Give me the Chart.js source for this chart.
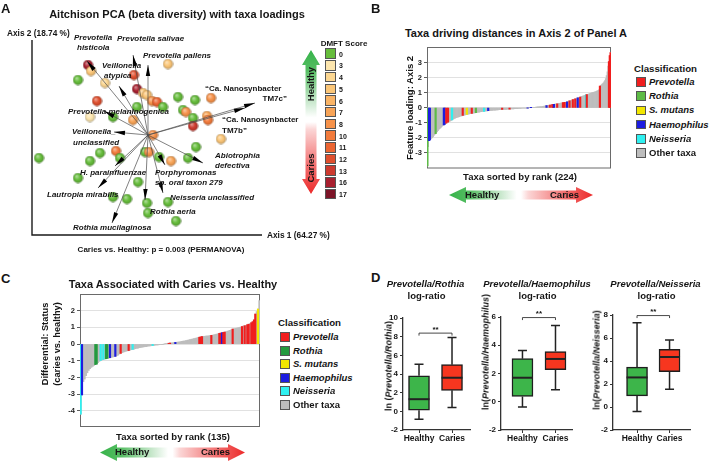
<!DOCTYPE html>
<html>
<head>
<meta charset="utf-8">
<script src="https://cdn.jsdelivr.net/npm/chart.js@4.4.1/dist/chart.umd.min.js"></script>
<style>
  body { margin: 0; background: #fff; }
  #fig { position: relative; width: 710px; height: 462px; overflow: hidden; background: #fff;
         font-family: 'Liberation Sans', Arial, sans-serif; font-weight: bold; color: #151515; }
  #fig canvas { position: absolute; }
  .t { position: absolute; white-space: nowrap; line-height: 1; }
  .sw { position: absolute; box-sizing: border-box; border: 1px solid #555; }
</style>
</head>
<body>
<div id="fig">
  <canvas id="pca" width="370" height="270" style="left:0;top:0"></canvas>
  <canvas id="axis2" width="225" height="135" style="left:395px;top:40px"></canvas>
  <canvas id="diff" width="225" height="150" style="left:40px;top:285px"></canvas>
  <canvas id="box1" width="95" height="135" style="left:382px;top:310px"></canvas>
  <canvas id="box2" width="97" height="140" style="left:480px;top:305px"></canvas>
  <canvas id="box3" width="100" height="140" style="left:592px;top:305px"></canvas>
</div>
<script>
// ---- Panel A: PCA samples (Axis 1 / Axis 2 scores) and DMFT score of each sample
const sampleX = [-60, -57, -70, -43, -14, -11, -5, -1, 4, 9, 15, 20, 30, 47, 63, -51, -58, -35, -15, -11,
  35, 38, 59, 60, 45, 45, 5, 73, 48, -48, -32, -109, -58, -28, -3, 1, 11, 23, 40, -70, -10, -35, -21, -1, 20, 0, 28];
const sampleY = [70, 64, 55, 52, 60, 46, 42, 40, 34, 33, 28, 71, 38, 35, 37, 34, 18, 18, 15, 28,
  25, 23, 19, 15, 17, 9, 0, -4, -12, -18, -16, -23, -26, -23, -17, -17, -22, -26, -23, -43, -47, -62, -64, -68, -67, -78, -86];
const sampleDMFT = [16, 5, 0, 4, 12, 16, 5, 5, 8, 11, 0, 5, 0, 0, 8, 12, 3, 0, 7, 0,
  0, 8, 7, 10, 0, 13, 8, 5, 0, 0, 10, 0, 0, 0, 0, 8, 0, 7, 0, 0, 0, 0, 0, 0, 0, 0, 0];

const dmftScores = [0, 3, 4, 5, 6, 7, 8, 10, 11, 12, 13, 16, 17];
const dmftColors = ['#66bd3c', '#fde6ae', '#fcd792', '#fbc678', '#fab466', '#f8a457', '#f6924a',
  '#f27b3c', '#eb6532', '#df4f2e', '#cd3a2f', '#a8202f', '#7c1427'];

// taxa loadings (arrow tips)
const loadingNames = ['Prevotella histicola', 'Prevotella salivae', 'Prevotella pallens', 'Veillonella atypica',
  'Ca. Nanosynbacter TM7c', 'Ca. Nanosynbacter TM7b', 'Prevotella melaninogenica', 'Veillonella unclassified',
  'Abiotrophia defectiva', 'Porphyromonas sp. oral taxon 279', 'Neisseria unclassified', 'H. parainfluenzae',
  'Lautropia mirabilis', 'Rothia mucilaginosa', 'Rothia aeria'];
const loadingX = [-61, -15, 0, -29, 107, 97, -44, -34, 55, 17, 15, -33, -50, -36, -3];
const loadingY = [74, 80, 70, 49, 32, 27, 24, 3, -28, -30, -58, -31, -53, -88, -65];

// ---- Panel B: feature loadings on Axis 2, sorted by rank (224 taxa)
const axis2Loadings = [
  -3.9, -2.6, -2.2, -2.15, -2.1, -2.05, -2.0, -1.93, -1.86, -1.79,
  -1.73, -1.67, -1.6, -1.53, -1.46, -1.4, -1.35, -1.3, -1.24, -1.19,
  -1.15, -1.11, -1.07, -1.03, -1.0, -0.97, -0.94, -0.91, -0.88, -0.85,
  -0.82, -0.78, -0.75, -0.72, -0.7, -0.67, -0.65, -0.63, -0.61, -0.59,
  -0.57, -0.55, -0.54, -0.52, -0.51, -0.49, -0.48, -0.46, -0.45, -0.44,
  -0.43, -0.41, -0.4, -0.39, -0.38, -0.37, -0.36, -0.35, -0.34, -0.33,
  -0.32, -0.31, -0.3, -0.29, -0.28, -0.27, -0.26, -0.25, -0.245, -0.24,
  -0.23, -0.22, -0.215, -0.21, -0.2, -0.195, -0.19, -0.185, -0.18, -0.175,
  -0.17, -0.165, -0.16, -0.155, -0.15, -0.145, -0.14, -0.135, -0.13, -0.127,
  -0.124, -0.12, -0.117, -0.114, -0.11, -0.107, -0.104, -0.1, -0.097, -0.094,
  -0.09, -0.087, -0.084, -0.08, -0.077, -0.073, -0.07, -0.066, -0.062, -0.058,
  -0.054, -0.05, -0.046, -0.042, -0.038, -0.034, -0.03, -0.026, -0.022, -0.018,
  -0.014, -0.01, -0.006, -0.002, 0.002, 0.006, 0.01, 0.015, 0.02, 0.025,
  0.03, 0.036, 0.042, 0.048, 0.054, 0.06, 0.066, 0.072, 0.078, 0.085,
  0.092, 0.1, 0.11, 0.12, 0.13, 0.14, 0.15, 0.16, 0.17, 0.18,
  0.19, 0.2, 0.21, 0.22, 0.23, 0.24, 0.25, 0.26, 0.27, 0.28,
  0.29, 0.3, 0.31, 0.32, 0.33, 0.34, 0.35, 0.36, 0.37, 0.38,
  0.4, 0.42, 0.44, 0.46, 0.48, 0.5, 0.52, 0.54, 0.56, 0.58,
  0.6, 0.62, 0.64, 0.66, 0.68, 0.7, 0.72, 0.74, 0.76, 0.78,
  0.8, 0.82, 0.84, 0.86, 0.88, 0.9, 0.92, 0.94, 0.96, 0.98,
  1.0, 1.02, 1.04, 1.05, 1.07, 1.09, 1.11, 1.13, 1.16, 1.22,
  1.45, 1.5, 1.55, 1.6, 1.66, 1.73, 1.82, 1.95, 2.15, 2.4,
  2.8, 3.1, 3.5, 3.7
];
const bPrevotella = [23, 25, 43, 54, 91, 100, 149, 152, 153, 158, 165, 167, 173, 177, 180, 186, 194, 210, 221, 222, 223];
const bRothia = [0, 10, 59];
const bMutans = [48];
const bHaemophilus = [2, 3, 20, 21, 74, 122, 126, 145, 154, 170, 183];
const bNeisseria = [30, 69, 193];

// ---- Panel C: differentials caries vs. healthy, sorted by rank (135 taxa)
const statusDiff = [
  -4.2, -3.05, -2.25, -2.1, -1.9, -1.72, -1.58, -1.48, -1.4, -1.34,
  -1.28, -1.23, -1.2, -1.12, -1.04, -0.98, -0.95, -0.92, -0.9, -0.88,
  -0.86, -0.84, -0.82, -0.8, -0.78, -0.76, -0.74, -0.7, -0.66, -0.6,
  -0.56, -0.52, -0.49, -0.46, -0.43, -0.41, -0.39, -0.36, -0.34, -0.32,
  -0.3, -0.28, -0.26, -0.24, -0.22, -0.21, -0.19, -0.18, -0.16, -0.15,
  -0.14, -0.12, -0.11, -0.1, -0.09, -0.08, -0.07, -0.06, -0.05, -0.04,
  -0.03, -0.02, -0.01, 0.01, 0.02, 0.03, 0.05, 0.06, 0.07, 0.08,
  0.09, 0.1, 0.11, 0.12, 0.13, 0.15, 0.16, 0.18, 0.19, 0.21,
  0.23, 0.25, 0.27, 0.29, 0.31, 0.33, 0.35, 0.37, 0.39, 0.41,
  0.43, 0.45, 0.46, 0.47, 0.48, 0.49, 0.5, 0.51, 0.52, 0.54,
  0.56, 0.58, 0.6, 0.62, 0.64, 0.66, 0.68, 0.7, 0.72, 0.74,
  0.77, 0.8, 0.83, 0.86, 0.9, 0.92, 0.94, 0.96, 0.98, 1.0,
  1.02, 1.05, 1.08, 1.1, 1.13, 1.16, 1.19, 1.23, 1.28, 1.34,
  1.45, 1.8, 1.95, 2.1, 2.6
];
const cPrevotella = [30, 36, 66, 67, 89, 90, 91, 98, 104, 105, 107, 108, 114, 121, 123, 125, 126, 128, 129, 130, 131];
const cRothia = [11, 12, 19, 20];
const cMutans = [133];
const cHaemophilus = [1, 22, 26, 71, 106];
const cNeisseria = [0, 15, 17, 39, 54];

// ---- Panel D: log-ratio box plots [min, q1, median, q3, max] for Healthy, Caries
const groupLabels = ['Healthy', 'Caries'];
const rothiaRatio = [[-0.85, 0.12, 1.3, 3.8, 5.05], [0.42, 2.25, 3.6, 5.0, 7.9]];
const haemophilusRatio = [[-0.38, 0.38, 1.7, 3.05, 3.62], [0.85, 2.28, 3.03, 3.55, 5.4]];
const neisseriaRatio = [[-0.4, 0.97, 2.57, 3.47, 7.32], [1.55, 3.08, 4.35, 5.02, 5.82]];
const sigLevel = [8.38, 5.96, 7.95];

Chart.defaults.font.family = "'Liberation Sans', Arial, sans-serif";
Chart.defaults.font.weight = 'bold';
Chart.defaults.color = '#151515';

const fig = document.getElementById('fig');

function txt(html, x, y, size, o = {}) {
  const d = document.createElement('div');
  d.className = 't';
  d.innerHTML = html;
  d.style.left = x + 'px';
  d.style.top = y + 'px';
  d.style.fontSize = size + 'px';
  if (o.italic) d.style.fontStyle = 'italic';
  const tx = (o.rot || o.align === 'c') ? '-50%' : o.align === 'r' ? '-100%' : '0';
  d.style.transform = `translate(${tx},-50%)` + (o.rot ? ' rotate(-90deg)' : '');
  fig.appendChild(d);
}

function swatch(x, y, size, color) {
  const d = document.createElement('div');
  d.className = 'sw';
  d.style.cssText += `left:${x}px;top:${y - size / 2}px;width:${size}px;height:${size}px;background:${color}`;
  fig.appendChild(d);
}

// double-headed gradient arrow (Healthy <-> Caries)
function gradArrow(x, y, w, h, head, shaft, vertical) {
  const d = document.createElement('div');
  d.style.cssText = `position:absolute;left:${x}px;top:${y}px;width:${w}px;height:${h}px;`;
  const a = vertical ? h : w, b = vertical ? w : h;
  const pts = [[0, b / 2], [head, 0], [head, (b - shaft) / 2], [a - head, (b - shaft) / 2], [a - head, 0], [a, b / 2],
    [a - head, b], [a - head, (b + shaft) / 2], [head, (b + shaft) / 2], [head, b]];
  d.style.clipPath = 'polygon(' + pts.map(([p, q]) => vertical ? `${q}px ${p}px` : `${p}px ${q}px`).join(',') + ')';
  d.style.background = `linear-gradient(${vertical ? 'to bottom' : 'to right'}, #36b34a 0%, #55bd62 14%, #c9e8cd 36%, #fff 47%, #fff 50%, #fbd6d6 55%, #f27070 80%, #ec2a2a 100%)`;
  fig.appendChild(d);
}

function mix(hex, t, target) {
  const n = parseInt(hex.slice(1), 16);
  const c = [n >> 16, (n >> 8) & 255, n & 255].map(v => Math.round(v + (target - v) * t));
  return `rgb(${c[0]},${c[1]},${c[2]})`;
}

const sphereCache = {};
function sphere(color) {
  if (sphereCache[color]) return sphereCache[color];
  const c = document.createElement('canvas');
  c.width = c.height = 11;
  const g = c.getContext('2d');
  const grad = g.createRadialGradient(4, 3.6, 0.3, 5.5, 5.5, 5.3);
  grad.addColorStop(0, mix(color, 0.5, 255));
  grad.addColorStop(0.5, color);
  grad.addColorStop(1, mix(color, 0.18, 0));
  g.fillStyle = grad;
  g.beginPath();
  g.arc(5.5, 5.5, 4.9, 0, Math.PI * 2);
  g.fill();
  g.strokeStyle = 'rgba(0,0,0,0.25)';
  g.lineWidth = 0.6;
  g.stroke();
  sphereCache[color] = c;
  return c;
}

// ---------- Panel A chart ----------
const pcaDecor = {
  id: 'pcaDecor',
  afterDatasetsDraw(chart) {
    const { ctx, chartArea: a, scales: { x, y } } = chart;
    ctx.save();
    ctx.strokeStyle = '#1a1a1a';
    ctx.lineWidth = 1.4;
    ctx.beginPath();
    ctx.moveTo(a.left, a.top);
    ctx.lineTo(a.left, a.bottom);
    ctx.lineTo(a.right, a.bottom);
    ctx.stroke();
    const ox = x.getPixelForValue(0), oy = y.getPixelForValue(0);
    loadingX.forEach((lx, i) => {
      const tx = x.getPixelForValue(lx), ty = y.getPixelForValue(loadingY[i]);
      ctx.strokeStyle = '#4a4a4a';
      ctx.lineWidth = 0.7;
      ctx.beginPath();
      ctx.moveTo(ox, oy);
      ctx.lineTo(tx, ty);
      ctx.stroke();
      ctx.save();
      ctx.translate(tx, ty);
      ctx.rotate(Math.atan2(ty - oy, tx - ox));
      ctx.fillStyle = '#000';
      ctx.beginPath();
      ctx.moveTo(0, 0);
      ctx.lineTo(-11, -2.2);
      ctx.lineTo(-11, 2.2);
      ctx.closePath();
      ctx.fill();
      ctx.restore();
    });
    ctx.restore();
  }
};

new Chart(document.getElementById('pca'), {
  type: 'scatter',
  data: {
    datasets: [{
      data: sampleX.map((v, i) => ({ x: v, y: sampleY[i] })),
      pointStyle: sampleDMFT.map(s => sphere(dmftColors[dmftScores.indexOf(s)])),
      pointRadius: 5,
      clip: false
    }]
  },
  options: {
    responsive: false,
    animation: false,
    layout: { padding: { left: 32, top: 40, right: 108, bottom: 35 } },
    scales: {
      x: { type: 'linear', display: false, min: -116, max: 114 },
      y: { type: 'linear', display: false, min: -100, max: 95 }
    },
    plugins: { legend: { display: false }, tooltip: { enabled: false } }
  },
  plugins: [pcaDecor]
});

// ---------- Panels B and C: ranked bar charts ----------
const frame = {
  id: 'frame',
  beforeDatasetsDraw(chart) {
    const { ctx, chartArea: a } = chart;
    ctx.save();
    ctx.strokeStyle = '#6a6a6a';
    ctx.lineWidth = 1;
    ctx.strokeRect(a.left + 0.5, a.top + 0.5, a.right - a.left - 1, a.bottom - a.top - 1);
    ctx.restore();
  }
};

function classColors(n, groups, palette) {
  const col = new Array(n).fill(null);
  Object.keys(groups).forEach(k => groups[k].forEach(i => { col[i] = palette[k]; }));
  return col;
}

function rankedBars(id, values, colors, yMin, yMax, ticks, axisW, pad) {
  new Chart(document.getElementById(id), {
    type: 'bar',
    data: {
      labels: values.map((_, i) => i + 1),
      datasets: [
        { data: values.map((v, i) => colors[i] ? v : null), backgroundColor: colors,
          barThickness: 1.5, grouped: false, order: 0 },
        { data: values, backgroundColor: '#bdbdbd', barPercentage: 1, categoryPercentage: 1,
          grouped: false, order: 1 }
      ]
    },
    options: {
      responsive: false,
      animation: false,
      layout: { padding: pad },
      scales: {
        x: { display: false },
        y: {
          min: yMin, max: yMax,
          afterFit(s) { s.width = axisW; },
          afterBuildTicks(s) { s.ticks = ticks.map(v => ({ value: v })); },
          ticks: { font: { size: 7.5, weight: 'bold' }, color: '#222', padding: 2, callback: v => v },
          grid: { color: '#d9d9d9', lineWidth: 0.8, tickLength: 3, tickColor: '#333' },
          border: { display: false }
        }
      },
      plugins: { legend: { display: false }, tooltip: { enabled: false } }
    },
    plugins: [frame]
  });
}

const paletteB = { P: '#f01e1e', R: '#5dbb46', S: '#f2e600', H: '#1d1de0', N: '#2ff0f0' };
const paletteC = { P: '#f01e1e', R: '#249a3e', S: '#f2e600', H: '#1d1de0', N: '#2ff0f0' };

rankedBars('axis2', axis2Loadings,
  classColors(axis2Loadings.length, { P: bPrevotella, R: bRothia, S: bMutans, H: bHaemophilus, N: bNeisseria }, paletteB),
  -4.07, 4.07, [-3, -2, -1, 0, 1, 2, 3], 32, { top: 7, bottom: 6, right: 9 });

rankedBars('diff', statusDiff,
  classColors(statusDiff.length, { P: cPrevotella, R: cRothia, S: cMutans, H: cHaemophilus, N: cNeisseria }, paletteC),
  -4.97, 3.0, [-4, -3, -2, -1, 0, 1, 2], 40, { top: 9, bottom: 8, right: 5 });

// ---------- Panel D: box plots ----------
const boxWhiskers = {
  id: 'boxWhiskers',
  afterDatasetsDraw(chart, args, opts) {
    const { ctx, scales: { x, y } } = chart;
    ctx.save();
    ctx.strokeStyle = '#222';
    opts.stats.forEach((s, i) => {
      const cx = x.getPixelForValue(i + 1);
      const [mn, q1, med, q3, mx] = s.map(v => y.getPixelForValue(v));
      ctx.lineWidth = 1.5;
      ctx.beginPath();
      ctx.moveTo(cx, q1); ctx.lineTo(cx, mn);
      ctx.moveTo(cx - 4.5, mn); ctx.lineTo(cx + 4.5, mn);
      ctx.moveTo(cx, q3); ctx.lineTo(cx, mx);
      ctx.moveTo(cx - 4.5, mx); ctx.lineTo(cx + 4.5, mx);
      ctx.stroke();
      ctx.lineWidth = 2;
      ctx.beginPath();
      ctx.moveTo(cx - 10.5, med); ctx.lineTo(cx + 10.5, med);
      ctx.stroke();
    });
    // significance bracket
    const x1 = x.getPixelForValue(1), x2 = x.getPixelForValue(2), sy = y.getPixelForValue(opts.sig);
    ctx.lineWidth = 0.9;
    ctx.strokeStyle = '#333';
    ctx.beginPath();
    ctx.moveTo(x1, sy + 2.5); ctx.lineTo(x1, sy); ctx.lineTo(x2, sy); ctx.lineTo(x2, sy + 2.5);
    ctx.stroke();
    ctx.fillStyle = '#111';
    ctx.font = "bold 8px 'Liberation Sans', Arial, sans-serif";
    ctx.textAlign = 'center';
    ctx.fillText('**', (x1 + x2) / 2, sy - 1.5);
    ctx.restore();
  }
};

function boxChart(id, stats, sig, yMax, xMin, xMax, padTop, padRight) {
  new Chart(document.getElementById(id), {
    type: 'bar',
    data: {
      datasets: [{
        data: stats.map((s, i) => ({ x: i + 1, y: [s[1], s[3]] })),
        backgroundColor: ['#3db54a', '#f7361f'],
        borderColor: '#1e1e1e',
        borderWidth: 1.5,
        borderSkipped: false,
        barThickness: 21
      }]
    },
    options: {
      responsive: false,
      animation: false,
      layout: { padding: { top: padTop, right: padRight } },
      scales: {
        x: {
          type: 'linear', min: xMin, max: xMax, offset: false,
          afterBuildTicks(s) { s.ticks = [{ value: 1 }, { value: 2 }]; },
          afterFit(s) { s.height = 15; },
          ticks: { font: { size: 8.5, weight: 'bold' }, color: '#151515', padding: 1,
                   maxRotation: 0, minRotation: 0, autoSkip: false, callback: v => groupLabels[v - 1] },
          grid: { drawOnChartArea: false, offset: false, tickLength: 3, color: '#333' },
          border: { color: '#333', width: 1.2 }
        },
        y: {
          min: -2, max: yMax,
          afterFit(s) { s.width = 21; },
          ticks: { stepSize: 2, font: { size: 8, weight: 'bold' }, color: '#151515', padding: 2 },
          grid: { drawOnChartArea: false, tickLength: 3, color: '#333' },
          border: { color: '#333', width: 1.3 }
        }
      },
      plugins: { legend: { display: false }, tooltip: { enabled: false }, boxWhiskers: { stats, sig } }
    },
    plugins: [boxWhiskers]
  });
}

boxChart('box1', rothiaRatio, sigLevel[0], 10, 0.515, 2.545, 8, 7);
boxChart('box2', haemophilusRatio, sigLevel[1], 6, 0.35, 2.5, 12, 5);
boxChart('box3', neisseriaRatio, sigLevel[2], 8, 0.26, 2.63, 10, 2);

// ---------- Text, legends and arrows ----------
// panel letters and titles
txt('A', 1, 8, 13);
txt('B', 371, 8, 13);
txt('C', 1, 278, 13);
txt('D', 371, 277, 13);
txt('Aitchison PCA (beta diversity) with taxa loadings', 177, 14, 11, { align: 'c' });
txt('Taxa driving distances in Axis 2 of Panel A', 516, 33, 11, { align: 'c' });
txt('Taxa Associated with Caries vs. Healthy', 173, 284, 11, { align: 'c' });

// Panel A texts
txt('Axis 2 (18.74 %)', 7, 33, 8.3);
txt('Axis 1 (64.27 %)', 267, 235, 8.3);
txt('Caries vs. Healthy: p = 0.003 (PERMANOVA)', 161, 250, 8, { align: 'c' });
const loadingLabelLayout = [
  ['Prevotella', 74, 38, 1], ['histicola', 77, 48, 1], ['Prevotella salivae', 117, 39, 1],
  ['Prevotella pallens', 143, 56, 1], ['Veillonella', 102, 66, 1], ['atypica', 104, 76, 1],
  ['“Ca. Nanosynbacter', 205, 89, 0], ['“Ca. Nanosynbacter', 222, 120, 0], ['TM7b”', 222, 131, 0],
  ['Prevotella melaninogenica', 68, 112, 1], ['Veillonella_', 72, 132, 1], ['unclassified', 73, 143, 1],
  ['Abiotrophia', 215, 156, 1], ['defectiva', 215, 166, 1], ['Porphyromonas', 155, 173, 1],
  ['sp. oral taxon 279', 155, 183, 1], ['H. parainfluenzae', 80, 173, 1], ['Lautropia mirabilis', 47, 195, 1],
  ['Neisseria unclassified', 170, 198, 1], ['Rothia aeria', 150, 212, 1], ['Rothia mucilaginosa', 73, 228, 1]
];
loadingLabelLayout.forEach(([s, x, y, it]) => txt(s, x, y, 8, { italic: !!it }));
txt('TM7c”', 287, 99, 8, { align: 'r' });

// DMFT legend
txt('DMFT Score', 344, 44, 8, { align: 'c' });
dmftScores.forEach((s, i) => {
  const cy = 53.7 + i * 11.7;
  swatch(325, cy, 10.5, dmftColors[i]);
  txt(String(s), 339, cy, 7);
});
gradArrow(302, 50, 18, 144, 15, 11, true);
txt('Healthy', 311, 84, 9.5, { rot: true });
txt('Caries', 311, 168, 9.5, { rot: true });

// Panel B texts
txt('Feature loading: Axis 2', 410, 108, 9.5, { rot: true });
txt('Taxa sorted by rank (224)', 520, 177, 9.5, { align: 'c' });
gradArrow(449, 187, 144, 16, 17, 9, false);
txt('Healthy', 465, 195, 9.5);
txt('Caries', 550, 195, 9.5);

const classNames = ['<i>Prevotella</i>', '<i>Rothia</i>', '<i>S. mutans</i>', '<i>Haemophilus</i>', '<i>Neisseria</i>', 'Other taxa'];
const classKeys = ['P', 'R', 'S', 'H', 'N'];
txt('Classification', 634, 69, 9.7);
classNames.forEach((n, i) => {
  const cy = 82 + i * 14.2;
  swatch(636, cy, 9.5, i < 5 ? paletteB[classKeys[i]] : '#bdbdbd');
  txt(n, 649, cy, 9.5);
});

// Panel C texts
txt('Differential: Status', 46, 344, 9.3, { rot: true });
txt('(caries vs. healthy)', 58, 344, 9.3, { rot: true });
txt('Taxa sorted by rank (135)', 173, 437, 9.5, { align: 'c' });
gradArrow(100, 444, 145, 17, 17, 10, false);
txt('Healthy', 115, 452, 9.5);
txt('Caries', 201, 452, 9.5);
txt('Classification', 278, 323, 9.7);
classNames.forEach((n, i) => {
  const cy = 337 + i * 13.6;
  swatch(280, cy, 10, i < 5 ? paletteC[classKeys[i]] : '#bdbdbd');
  txt(n, 293, cy, 9.5);
});

// Panel D texts
txt('<i>Prevotella/Rothia</i>', 425.5, 284, 9.5, { align: 'c' });
txt('log-ratio', 426.5, 296, 9.5, { align: 'c' });
txt('<i>Prevotella/Haemophilus</i>', 537, 284, 9.5, { align: 'c' });
txt('log-ratio', 537.5, 296, 9.5, { align: 'c' });
txt('<i>Prevotella/Neisseria</i>', 655.5, 284, 9.5, { align: 'c' });
txt('log-ratio', 656.5, 296, 9.5, { align: 'c' });
txt('ln (<i>Prevotella/Rothia</i>)', 389, 366, 9, { rot: true });
txt('ln(<i>Prevotella/Haemophilus</i>)', 486, 352, 9, { rot: true });
txt('ln(<i>Prevotella/Neisseria</i>)', 597, 360, 9, { rot: true });
</script>
</body>
</html>
